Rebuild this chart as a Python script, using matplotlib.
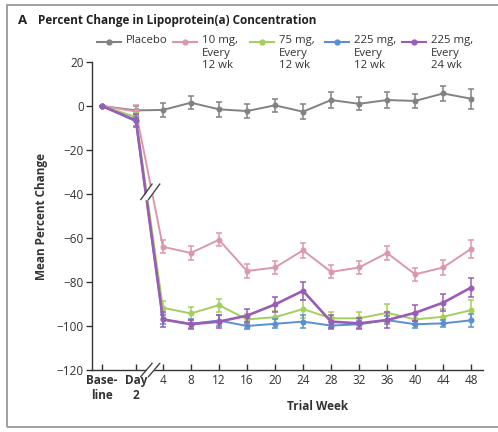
import numpy as np
import matplotlib.pyplot as plt
from matplotlib.lines import Line2D
from matplotlib.patches import Rectangle

plt.rcParams['font.family'] = ['Open Sans', 'DejaVu Sans']

# ---- data ----
tick_labels = ['Base-\nline', 'Day\n2', '4', '8', '12', '16', '20', '24', '28',
               '32', '36', '40', '44', '48']
weeks = [4, 8, 12, 16, 20, 24, 28, 32, 36, 40, 44, 48]

placebo = [0, -2, -1.8, 1.5, -1.5, -2.3, 0.3, -2.6, 2.7, 1.0, 2.7, 2.3, 5.7, 3.3]
placebo_err = [0, 2, 3, 3, 3.5, 3, 3, 3.5, 3.5, 3, 3.5, 3, 3.5, 4.5]

mg10 = [0, -2.5, -64, -66.8, -60.8, -75, -73.4, -65.6, -75.4, -73.4, -66.8, -76.5, -73.4, -64.9]
mg10_err = [0, 3, 3, 3, 3, 3, 3, 3.5, 3, 3, 3, 3, 3.5, 4]

mg75 = [0, -5, -91.7, -94.3, -90.5, -97, -96, -92.3, -96.5, -96.5, -94, -97, -95.8, -92.8]
mg75_err = [0, 2, 3, 3, 3, 2.5, 3, 4, 3, 3, 4, 2.5, 3.5, 4.5]

mg225 = [0, -7, -97, -99, -97.5, -100, -99, -98, -99.8, -99.2, -97.3, -99.2, -98.8, -97.4]
mg225_err = [0, 2, 2, 2, 2.5, 1.5, 2, 3, 1.5, 1.5, 2, 1.5, 1.5, 3]

mg225_24 = [0, -6.5, -97, -99.2, -98, -95.3, -90.2, -84, -98, -98.8, -97.3, -94, -89.4, -82.5]
mg225_24_err = [0, 3, 3.5, 2, 3, 3, 3.5, 4, 3, 2.5, 3.5, 3.5, 4, 4.5]

labels = ['Placebo', '10 mg,\nEvery\n12 wk', '75 mg,\nEvery\n12 wk',
          '225 mg,\nEvery\n12 wk', '225 mg,\nEvery\n24 wk']
colors = ['#808285', '#dc98ab', '#a3cf5f', '#5a8fd2', '#9b5cb4']

# x positions: baseline and day 2 sit left of the broken axis
xpos = [-4.7, 0.15] + weeks

fig = plt.figure(figsize=(4.98, 4.32), dpi=100)
ax = fig.add_axes([0.185, 0.1435, 0.785, 0.713])

series = [(placebo, placebo_err), (mg10, mg10_err), (mg75, mg75_err),
          (mg225, mg225_err), (mg225_24, mg225_24_err)]
for i in range(5):
    y, e = series[i]
    lw = 1.9 if i == 4 else 1.4
    ax.errorbar(xpos, y, yerr=e, color=colors[i], lw=lw, marker='o', ms=3.3,
                capsize=2.5, elinewidth=1.1, capthick=1.1, zorder=2 + i)

# line break mark "//"
ax.fill([1.2, 2.6, 3.4, 2.0], [-42.5, -35.5, -35.5, -42.5], color='white', zorder=19)
for dx in (-0.55, 0.55):
    ax.plot([1.4 + dx, 3.0 + dx], [-42.5, -35.5], color='#444444', lw=1.0, zorder=20)
# axis break mark
ax.fill([1.2, 2.6, 3.4, 2.0], [-122.5, -117.5, -117.5, -122.5], color='white',
        zorder=19, clip_on=False)
for dx in (-0.55, 0.55):
    ax.plot([1.4 + dx, 3.0 + dx], [-123, -117], color='#444444', lw=1.0, zorder=20,
            clip_on=False)

ax.set_xlim(-6.1, 49.7)
ax.set_ylim(-120, 20)
yt = list(range(-120, 21, 20))
ax.set_yticks(yt)
ax.set_yticklabels(['\u2212' + str(abs(v)) if v < 0 else str(v) for v in yt])
ax.set_xticks(xpos)
ax.set_xticklabels(tick_labels)
for k, t in enumerate(ax.get_xticklabels()):
    if k < 2:
        t.set_fontweight('bold')
ax.tick_params(axis='y', direction='out', length=4, width=1, labelsize=8.5, pad=2,
               color='#333333', labelcolor='#333333')
ax.tick_params(axis='x', direction='in', length=4, width=1, labelsize=8.5, pad=3,
               color='#333333', labelcolor='#333333')
for s in ['top', 'right']:
    ax.spines[s].set_visible(False)
for s in ['left', 'bottom']:
    ax.spines[s].set_color('#333333')
    ax.spines[s].set_linewidth(1.0)

ax.set_ylabel('Mean Percent Change', fontsize=8.5, fontweight='bold', color='#333333',
              labelpad=6)
fig.text(0.638, 0.058, 'Trial Week', fontsize=8.5, fontweight='bold', color='#333333',
         ha='center', va='center')

# title
fig.text(0.036, 0.952, 'A', fontsize=9.5, fontweight='bold', color='#222222', va='center')
fig.text(0.076, 0.952, 'Percent Change in Lipoprotein(a) Concentration', fontsize=8.5,
         fontweight='bold', color='#222222', va='center')

# legend drawn by hand so handles align with first text line
leg_x = [0.195, 0.347, 0.502, 0.653, 0.807]
leg_y = 0.903
for i in range(5):
    x0 = leg_x[i]
    fig.add_artist(Line2D([x0, x0 + 0.048], [leg_y, leg_y], color=colors[i], lw=1.5,
                          transform=fig.transFigure))
    fig.add_artist(Line2D([x0 + 0.024], [leg_y], color=colors[i], marker='o', ms=3.5,
                          transform=fig.transFigure))
    fig.text(x0 + 0.058, leg_y + 0.016, labels[i], fontsize=8.2, color='#333333',
             va='top', ha='left', linespacing=1.2)

# frame around panel
fig.add_artist(Rectangle((0.014, 0.012), 1.2, 0.976, transform=fig.transFigure,
                         fill=False, edgecolor='#999999', lw=1.3))

fig.savefig('out.png', dpi=100)
